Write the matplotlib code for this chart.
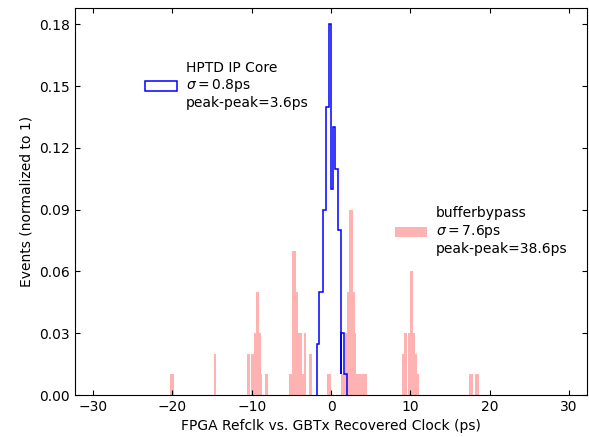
import numpy as np
import matplotlib
matplotlib.use("Agg")
import matplotlib.pyplot as plt

# HPTD IP Core (blue outline): bin edges and normalized counts
hptd_edges = [-1.8, -1.47, -1.0, -0.63, -0.29, -0.04, 0.21, 0.55, 0.92,
              1.22, 1.32, 1.66, 1.97]
hptd_vals = [0.025, 0.05, 0.09, 0.14, 0.18, 0.10, 0.13, 0.11, 0.08,
             0.01, 0.03, 0.01]

# bufferbypass (red filled): bin edges and normalized counts
bypass_edges = [-20.25, -19.8, -14.8, -14.45,
                -10.6, -10.22, -10.15, -9.72, -9.42, -9.08, -8.83, -8.66, -8.38, -8.0,
                -5.25, -4.95, -4.44, -4.11, -3.62, -3.45, -3.14, -2.8, -2.43,
                -0.45, -0.05,
                1.3, 1.76, 2.0, 2.3, 2.73, 3.0, 3.2, 4.5,
                8.9, 9.18, 9.6, 9.68, 10.0, 10.35, 10.6, 10.8, 11.1,
                17.45, 17.95, 18.1, 18.65]
bypass_vals = [0.01, 0, 0.02, 0,
               0.02, 0, 0.02, 0.03, 0.05, 0.03, 0.01, 0, 0.01, 0,
               0.01, 0.07, 0.05, 0.03, 0.01, 0.03, 0, 0.02, 0,
               0.01, 0,
               0.01, 0.03, 0.05, 0.09, 0.05, 0.03, 0.01, 0,
               0.02, 0.03, 0, 0.03, 0.06, 0.03, 0.02, 0.01, 0,
               0.01, 0, 0.01]

hptd_label = "HPTD IP Core\n$\\sigma=$0.8ps\npeak-peak=3.6ps"
bypass_label = "bufferbypass\n$\\sigma=$7.6ps\npeak-peak=38.6ps"


def centers(edges):
    e = np.asarray(edges)
    return (e[:-1] + e[1:]) / 2


fig = plt.figure(figsize=(5.89, 4.37), dpi=100)
ax = fig.add_axes([0.127, 0.096, 0.870, 0.886])

_, _, p_red = ax.hist(centers(bypass_edges), bins=bypass_edges, weights=bypass_vals,
                      histtype="stepfilled", color="red", alpha=0.3, linewidth=1.5)
_, _, p_blue = ax.hist(centers(hptd_edges), bins=hptd_edges, weights=hptd_vals,
                       histtype="step", color="blue", linewidth=1.1)

ax.set_xlim(-32.3, 32.3)
ax.set_ylim(0, 0.188)
ax.set_xticks(np.arange(-30, 31, 10))
ax.set_yticks(np.arange(0, 0.181, 0.03))
ax.yaxis.set_major_formatter(matplotlib.ticker.FormatStrFormatter("%.2f"))
ax.tick_params(direction="in", top=True, right=True, labelsize=10)
ax.set_xlabel("FPGA Refclk vs. GBTx Recovered Clock (ps)", fontsize=10)
ax.set_ylabel("Events (normalized to 1)", fontsize=10)

leg1 = ax.legend([p_blue[0]], [hptd_label], loc="center left",
                 bbox_to_anchor=(0.112, 0.800), frameon=False, fontsize=10,
                 handlelength=2.3, handletextpad=0.65)
ax.add_artist(leg1)
ax.legend([p_red[0]], [bypass_label], loc="center left",
          bbox_to_anchor=(0.600, 0.423), frameon=False, fontsize=10,
          handlelength=2.3, handletextpad=0.65)

fig.savefig("out.png", dpi=100)
